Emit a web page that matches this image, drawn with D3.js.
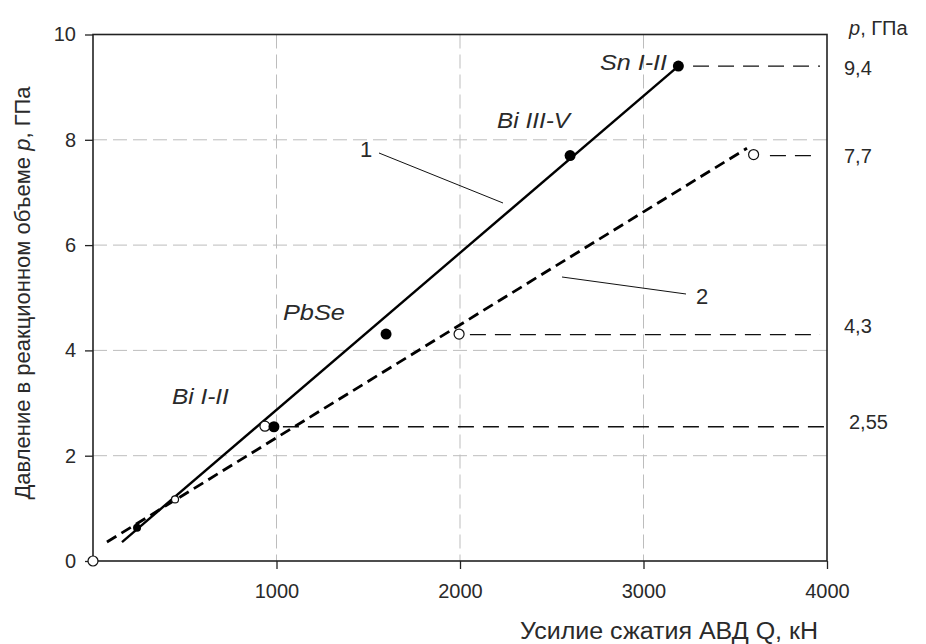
<!DOCTYPE html>
<html><head><meta charset="utf-8">
<script src="https://cdn.jsdelivr.net/npm/d3@7"></script>
<style>body{margin:0;background:#fff}svg{display:block}text{font-family:"Liberation Sans",Arial,sans-serif;fill:#2a2a2a}</style>
</head><body>
<script>
// ---- data ----
const xTicks = [1000, 2000, 3000, 4000];
const yTicks = [0, 2, 4, 6, 8, 10];
const xGrid = [1000, 2000, 3000];
const yGrid = [2, 4, 6, 8];
// line 1 (solid) and line 2 (dashed) end points [Q, p]
const line1 = [[158, 0.36], [3190, 9.4]];
const line2 = [[76, 0.36], [3564, 7.84]];
// filled points
const filledPts = [[3190, 9.4], [2600, 7.7], [1597, 4.31], [986, 2.55]];
const filledSmall = [[240, 0.63]];
// open points
const openPts = [[0, 0], [1995, 4.31], [3600, 7.72], [937, 2.56]];
const openSmall = [[447, 1.17]];
// reference levels: value, start Q, end Q, label
const refValues = [9.4, 7.7, 4.3, 2.55];
const refStart = [3270, 3689, 2054, 1035];
const refEnd = [3962, 3946, 3962, 3984];
const refLabels = ["9,4", "7,7", "4,3", "2,55"];
// phase labels
const phaseNames = ["Sn I-II", "Bi III-V", "PbSe", "Bi I-II"];
const phaseQ = [2763, 2202, 1035, 430];
const phaseP = [9.33, 8.23, 4.57, 2.99];
const phaseWidths = [67, 73, 62, 57];

const W = 926, H = 644;
const svg = d3.select("body").append("svg").attr("width", W).attr("height", H);
const x = d3.scaleLinear().domain([0, 4000]).range([93, 827]);
const y = d3.scaleLinear().domain([0, 10]).range([561, 34.5]);

// grid
svg.append("g").selectAll("line").data(xGrid).join("line")
  .attr("x1", d => x(d)).attr("x2", d => x(d)).attr("y1", y(10)).attr("y2", y(0))
  .attr("stroke", "#bdbdbd").attr("stroke-width", 1).attr("stroke-dasharray", "14,6");
svg.append("g").selectAll("line").data(yGrid).join("line")
  .attr("x1", x(0)).attr("x2", x(4000) + 3).attr("y1", d => y(d)).attr("y2", d => y(d))
  .attr("stroke", "#bdbdbd").attr("stroke-width", 1).attr("stroke-dasharray", "14,6");

// axes
const xAxis = d3.axisBottom(x).tickValues(xTicks).tickSize(8).tickFormat(d3.format("d"));
const gx = svg.append("g").attr("transform", `translate(0,${y(0)})`).call(xAxis);
gx.select(".domain").remove();
gx.selectAll("line").attr("stroke", "#222").attr("stroke-width", 1.3);
gx.selectAll("text").attr("dy", null).attr("y", 37).style("font-size", "20px").attr("fill", "#2a2a2a");

const yAxis = d3.axisLeft(y).tickValues(yTicks).tickSize(8).tickFormat(d3.format("d"));
const gy = svg.append("g").attr("transform", `translate(${x(0)},0)`).call(yAxis);
gy.select(".domain").remove();
gy.selectAll("line").attr("stroke", "#222").attr("stroke-width", 1.3);
gy.selectAll("text").attr("x", -17).style("font-size", "20px").attr("fill", "#2a2a2a");

// frame
svg.append("rect").attr("x", x(0)).attr("y", y(10)).attr("width", x(4000) - x(0)).attr("height", y(0) - y(10))
  .attr("fill", "none").attr("stroke", "#222").attr("stroke-width", 1.6);

// reference dashed lines
svg.append("g").selectAll("line").data(refValues).join("line")
  .attr("x1", (d, i) => x(refStart[i])).attr("x2", (d, i) => x(refEnd[i]))
  .attr("y1", d => y(d)).attr("y2", d => y(d))
  .attr("stroke", "#111").attr("stroke-width", 1.4).attr("stroke-dasharray", "16,9");

// lines
const lg = d3.line().x(d => x(d[0])).y(d => y(d[1]));
svg.append("path").attr("d", lg(line1)).attr("stroke", "#000").attr("stroke-width", 2.4).attr("fill", "none");
svg.append("path").attr("d", lg(line2)).attr("stroke", "#000").attr("stroke-width", 2.8).attr("fill", "none").attr("stroke-dasharray", "11,6");

// points
svg.append("g").selectAll("circle").data(openPts).join("circle")
  .attr("cx", d => x(d[0])).attr("cy", d => y(d[1])).attr("r", 5)
  .attr("fill", "#fff").attr("stroke", "#111").attr("stroke-width", 1.2);
svg.append("g").selectAll("circle").data(openSmall).join("circle")
  .attr("cx", d => x(d[0])).attr("cy", d => y(d[1])).attr("r", 3.5)
  .attr("fill", "#fff").attr("stroke", "#111").attr("stroke-width", 1.2);
svg.append("g").selectAll("circle").data(filledPts).join("circle")
  .attr("cx", d => x(d[0])).attr("cy", d => y(d[1])).attr("r", 5.5).attr("fill", "#000");
svg.append("g").selectAll("circle").data(filledSmall).join("circle")
  .attr("cx", d => x(d[0])).attr("cy", d => y(d[1])).attr("r", 4).attr("fill", "#000");

// ref labels
svg.append("g").selectAll("text").data(refValues).join("text")
  .attr("x", (d, i) => i === 3 ? 849 : 844)
  .attr("y", (d, i) => [75, 163, 333, 429][i])
  .style("font-size", "20px").text((d, i) => refLabels[i]);
const pt = svg.append("text").attr("x", 849).attr("y", 35).style("font-size", "20px");
pt.append("tspan").style("font-style", "italic").text("p");
pt.append("tspan").text(", ГПа");

// phase labels
svg.append("g").selectAll("text").data(phaseNames).join("text")
  .attr("x", (d, i) => x(phaseQ[i])).attr("y", (d, i) => y(phaseP[i]))
  .attr("textLength", (d, i) => phaseWidths[i]).attr("lengthAdjust", "spacingAndGlyphs")
  .style("font-size", "22px").style("font-style", "italic").attr("fill", "#333").text(d => d);

// curve numbers and leaders
svg.append("text").attr("x", 360).attr("y", 157).style("font-size", "22px").text("1");
svg.append("line").attr("x1", 379).attr("y1", 153).attr("x2", 503).attr("y2", 203).attr("stroke", "#111").attr("stroke-width", 1);
svg.append("text").attr("x", 696).attr("y", 304).style("font-size", "22px").text("2");
svg.append("line").attr("x1", 686).attr("y1", 294).attr("x2", 562).attr("y2", 277).attr("stroke", "#111").attr("stroke-width", 1);

// axis titles
const yt = svg.append("text").attr("transform", `translate(30,293) rotate(-90)`)
  .attr("text-anchor", "middle").style("font-size", "22px");
yt.append("tspan").text("Давление в реакционном объеме ");
yt.append("tspan").style("font-style", "italic").text("p");
yt.append("tspan").text(", ГПа");
svg.append("text").attr("x", 520).attr("y", 639).attr("textLength", 298).attr("lengthAdjust", "spacingAndGlyphs")
  .style("font-size", "23px").text("Усилие сжатия АВД Q, кН");
</script>
</body></html>
